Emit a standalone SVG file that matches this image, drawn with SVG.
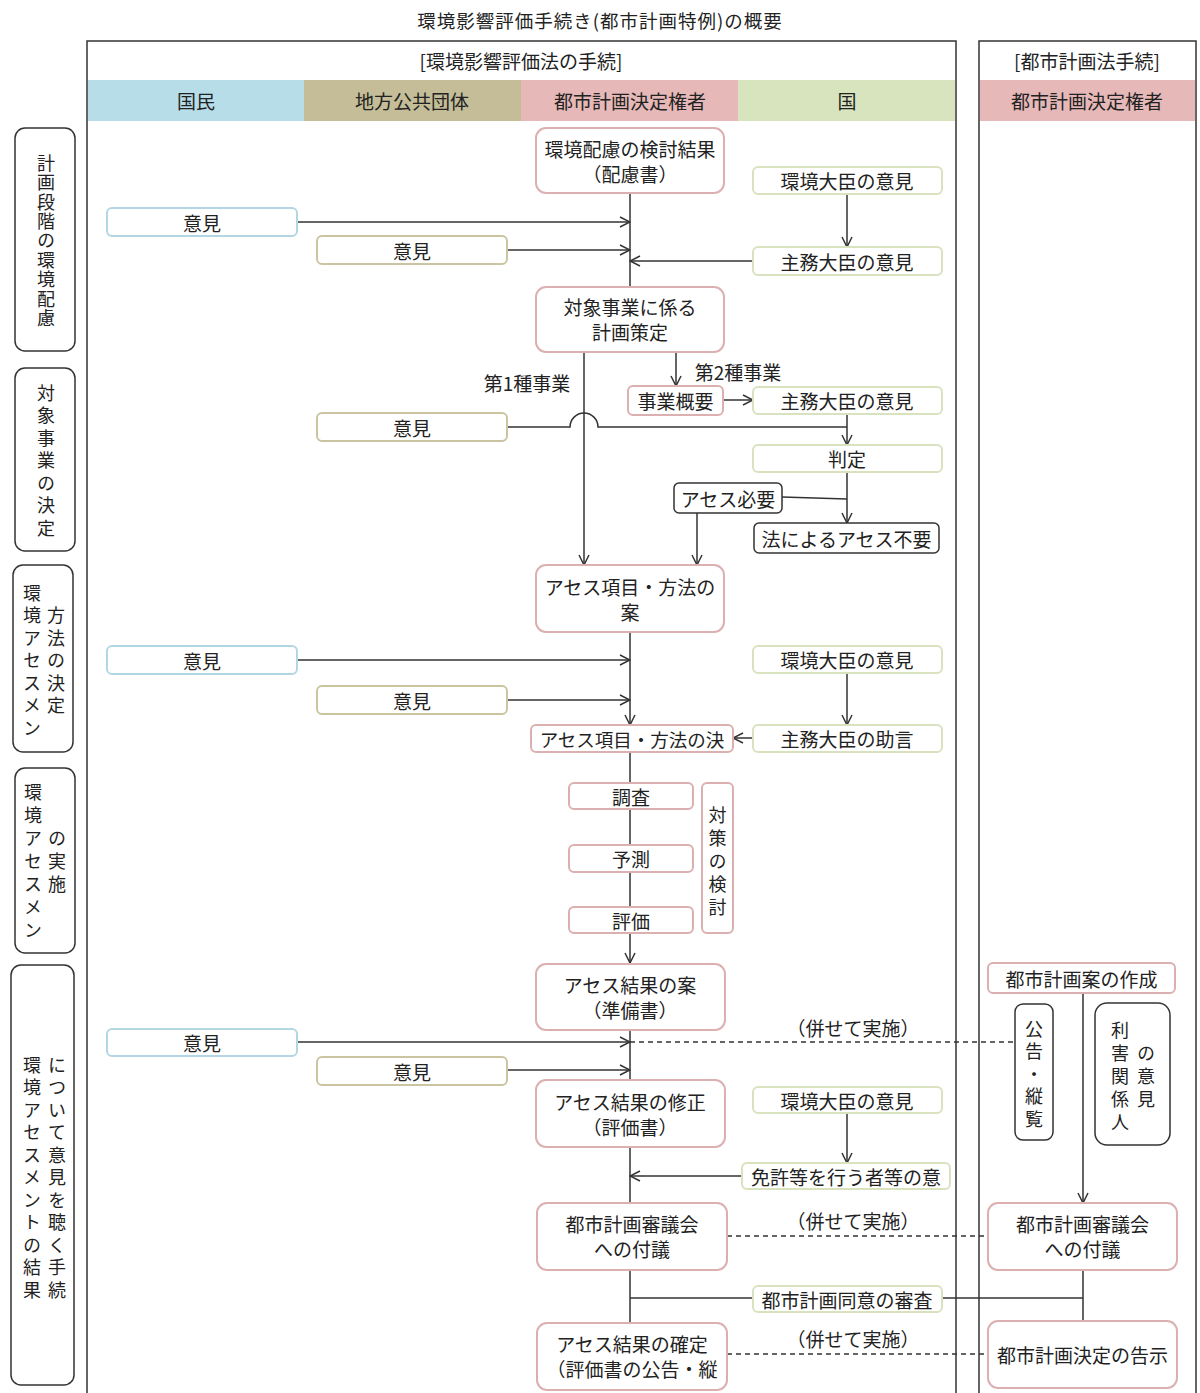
<svg xmlns="http://www.w3.org/2000/svg" width="1200" height="1393" viewBox="0 0 1200 1393">
<defs>
<style>
text{font-family:"Noto Sans CJK JP","Noto Sans",sans-serif;font-size:19px;fill:#222;text-anchor:middle;dominant-baseline:central}
.t{font-size:18.5px;letter-spacing:1px}
.v{font-size:18px;writing-mode:vertical-rl;text-anchor:start}
.pk{fill:#fff;stroke:#dcb0b0;stroke-width:2}
.gn{fill:#fff;stroke:#d9e2bf;stroke-width:2}
.bl{fill:#fff;stroke:#b3d7e2;stroke-width:2}
.tn{fill:#fff;stroke:#cbc4a0;stroke-width:2}
.bk{fill:#fff;stroke:#333;stroke-width:1.5}
.ln{fill:none;stroke:#333;stroke-width:1.5}
.ds{fill:none;stroke:#333;stroke-width:1.5;stroke-dasharray:5,4}
.fr{fill:none;stroke:#333;stroke-width:1.5}
</style>
<marker id="arr" viewBox="0 0 12 12" refX="11" refY="6" markerWidth="12" markerHeight="12" markerUnits="userSpaceOnUse" orient="auto">
<path d="M1,1 L11,6 L1,11" fill="none" stroke="#333" stroke-width="1.5"/>
</marker>
</defs>
<rect width="1200" height="1393" fill="#fff"/>

<text class="t" x="600" y="20">環境影響評価手続き(都市計画特例)の概要</text>

<g id="frames">
<rect class="fr" x="87" y="41" width="869" height="1370"/>
<rect class="fr" x="979" y="41" width="217" height="1370"/>
<text x="521" y="60">[環境影響評価法の手続]</text>
<text x="1087" y="60">[都市計画法手続]</text>
</g>

<g id="lanes">
<rect x="88" y="80" width="216" height="41" fill="#b7dde8"/>
<rect x="304" y="80" width="217" height="41" fill="#c4bd97"/>
<rect x="521" y="80" width="217" height="41" fill="#e6b8b7"/>
<rect x="738" y="80" width="217" height="41" fill="#d7e4bd"/>
<rect x="980" y="80" width="215" height="41" fill="#e6b8b7"/>
<text x="196" y="100">国民</text>
<text x="412" y="100">地方公共団体</text>
<text x="630" y="100">都市計画決定権者</text>
<text x="847" y="100">国</text>
<text x="1087" y="100">都市計画決定権者</text>
</g>

<g id="stages">
<g id="stage1">
<rect class="bk" x="15" y="128" width="60" height="223" rx="10"/>
<text class="v" x="46" y="154" style="letter-spacing:1.4px">計画段階の環境配慮</text>
</g>
<g id="stage2">
<rect class="bk" x="15" y="368" width="60" height="183" rx="10"/>
<text class="v" x="46" y="384" style="letter-spacing:4.5px">対象事業の決定</text>
</g>
<g id="stage3">
<rect class="bk" x="13" y="565" width="60" height="187" rx="10"/>
<text class="v" x="32" y="584" style="letter-spacing:4.5px">環境アセスメン</text>
<text class="v" x="56" y="606.5" style="letter-spacing:4.5px">方法の決定</text>
</g>
<g id="stage4">
<rect class="bk" x="15" y="768" width="60" height="185" rx="10"/>
<text class="v" x="33" y="783" style="letter-spacing:5px">環境アセスメン</text>
<text class="v" x="57" y="829" style="letter-spacing:5px">の実施</text>
</g>
<g id="stage5">
<rect class="bk" x="11" y="965" width="63" height="420" rx="10"/>
<text class="v" x="32" y="1056" style="letter-spacing:4.5px">環境アセスメントの結果</text>
<text class="v" x="57" y="1056" style="letter-spacing:4.5px">について意見を聴く手続</text>
</g>
</g>

<g id="connectors">
<path class="ln" d="M297,222 H630" marker-end="url(#arr)"/>
<path class="ln" d="M507,250 H630" marker-end="url(#arr)"/>
<path class="ln" d="M847,194 V247" marker-end="url(#arr)"/>
<path class="ln" d="M753,261 H630" marker-end="url(#arr)"/>
<path class="ln" d="M630,193 V287"/>
<path class="ln" d="M584,352 V565" marker-end="url(#arr)"/>
<path class="ln" d="M676,352 V386" marker-end="url(#arr)"/>
<path class="ln" d="M723,400 H753" marker-end="url(#arr)"/>
<path class="ln" d="M507,427 H570 A14,14 0 0 1 598,427 H847"/>
<path class="ln" d="M847,413 V445" marker-end="url(#arr)"/>
<path class="ln" d="M847,472 V523" marker-end="url(#arr)"/>
<path class="ln" d="M782,497 L847,499"/>
<path class="ln" d="M697,513 V565" marker-end="url(#arr)"/>
<path class="ln" d="M297,660 H630" marker-end="url(#arr)"/>
<path class="ln" d="M507,700 H630" marker-end="url(#arr)"/>
<path class="ln" d="M630,632 V725" marker-end="url(#arr)"/>
<path class="ln" d="M847,673 V725" marker-end="url(#arr)"/>
<path class="ln" d="M753,738 H733" marker-end="url(#arr)"/>
<path class="ln" d="M630,752 V963" marker-end="url(#arr)"/>
<path class="ln" d="M297,1042 H630" marker-end="url(#arr)"/>
<path class="ds" d="M630,1042 H1015"/>
<path class="ln" d="M507,1070 H630" marker-end="url(#arr)"/>
<path class="ln" d="M630,1030 V1080"/>
<path class="ln" d="M847,1113 V1163" marker-end="url(#arr)"/>
<path class="ln" d="M742,1176 H630" marker-end="url(#arr)"/>
<path class="ln" d="M630,1147 V1203"/>
<path class="ds" d="M727,1236 H988"/>
<path class="ln" d="M630,1270 V1322"/>
<path class="ln" d="M630,1298 H753"/>
<path class="ln" d="M942,1298 H1083"/>
<path class="ln" d="M1083,1270 V1321"/>
<path class="ds" d="M727,1354 H988"/>
<path class="ln" d="M1083,993 V1203" marker-end="url(#arr)"/>
<text x="527" y="382">第1種事業</text>
<text x="738" y="371">第2種事業</text>
<text x="853" y="1027">（併せて実施）</text>
<text x="853" y="1220">（併せて実施）</text>
<text x="853" y="1338">（併せて実施）</text>
</g>

<g id="n-hairyo"><rect class="pk" x="536" y="128" width="188" height="65" rx="10"/><text x="630" y="148">環境配慮の検討結果</text><text x="630" y="173">（配慮書）</text></g>
<g id="n-kankyo1"><rect class="gn" x="753" y="167" width="189" height="27" rx="5"/><text x="847" y="180.5">環境大臣の意見</text></g>
<g id="n-kokumin1"><rect class="bl" x="107" y="208" width="190" height="28" rx="5"/><text x="202" y="222">意見</text></g>
<g id="n-chiho1"><rect class="tn" x="317" y="236" width="190" height="28" rx="5"/><text x="412" y="250">意見</text></g>
<g id="n-shumu1"><rect class="gn" x="753" y="247" width="189" height="28" rx="5"/><text x="847" y="261">主務大臣の意見</text></g>
<g id="n-keikaku"><rect class="pk" x="536" y="287" width="188" height="65" rx="10"/><text x="630" y="306.5">対象事業に係る</text><text x="630" y="331.5">計画策定</text></g>
<g id="n-gaiyo"><rect class="pk" x="628" y="386" width="95" height="29" rx="5"/><text x="675.5" y="400.5">事業概要</text></g>
<g id="n-shumu2"><rect class="gn" x="753" y="387" width="189" height="27" rx="5"/><text x="847" y="400">主務大臣の意見</text></g>
<g id="n-chiho2"><rect class="tn" x="317" y="413" width="190" height="28" rx="5"/><text x="412" y="427">意見</text></g>
<g id="n-hantei"><rect class="gn" x="753" y="445" width="189" height="27" rx="5"/><text x="847" y="458.5">判定</text></g>
<g id="n-hitsuyo"><rect class="bk" x="674" y="483" width="108" height="30" rx="5"/><text x="728" y="498">アセス必要</text></g>
<g id="n-fuyo"><rect class="bk" x="754" y="523" width="185" height="30" rx="5"/><text x="846.5" y="538">法によるアセス不要</text></g>
<g id="n-hoho-an"><rect class="pk" x="536" y="565" width="188" height="67" rx="10"/><text x="630" y="586">アセス項目・方法の</text><text x="630" y="611">案</text></g>
<g id="n-kokumin2"><rect class="bl" x="107" y="646" width="190" height="28" rx="5"/><text x="202" y="660">意見</text></g>
<g id="n-kankyo2"><rect class="gn" x="753" y="646" width="189" height="27" rx="5"/><text x="847" y="659.5">環境大臣の意見</text></g>
<g id="n-chiho3"><rect class="tn" x="317" y="686" width="190" height="28" rx="5"/><text x="412" y="700">意見</text></g>
<g id="n-hoho-ketsu"><rect class="pk" x="531" y="725" width="202" height="27" rx="5"/><text x="632" y="738.5" style="font-size:18.5px">アセス項目・方法の決</text></g>
<g id="n-jogen"><rect class="gn" x="753" y="725" width="189" height="27" rx="5"/><text x="847" y="738.5">主務大臣の助言</text></g>
<g id="n-chosa"><rect class="pk" x="569" y="783" width="124" height="26" rx="5"/><text x="631" y="796">調査</text></g>
<g id="n-yosoku"><rect class="pk" x="569" y="845" width="124" height="27" rx="5"/><text x="631" y="858.5">予測</text></g>
<g id="n-hyoka"><rect class="pk" x="569" y="907" width="124" height="26" rx="5"/><text x="631" y="920">評価</text></g>
<g id="n-taisaku"><rect class="pk" x="702" y="783" width="31" height="150" rx="5"/><text class="v" x="717.5" y="806" style="letter-spacing:5px">対策の検討</text></g>
<g id="n-junbi"><rect class="pk" x="536" y="964" width="189" height="66" rx="10"/><text x="630" y="984">アセス結果の案</text><text x="630" y="1009">（準備書）</text></g>
<g id="n-kokumin3"><rect class="bl" x="107" y="1029" width="190" height="27" rx="5"/><text x="202" y="1042.5">意見</text></g>
<g id="n-chiho4"><rect class="tn" x="317" y="1057" width="190" height="28" rx="5"/><text x="412" y="1071">意見</text></g>
<g id="n-shusei"><rect class="pk" x="536" y="1080" width="189" height="67" rx="10"/><text x="630" y="1101">アセス結果の修正</text><text x="630" y="1126">（評価書）</text></g>
<g id="n-kankyo3"><rect class="gn" x="753" y="1087" width="189" height="26" rx="5"/><text x="847" y="1100">環境大臣の意見</text></g>
<g id="n-menkyo"><rect class="gn" x="742" y="1163" width="208" height="26" rx="5"/><text x="846" y="1176">免許等を行う者等の意</text></g>
<g id="n-shingi"><rect class="pk" x="537" y="1203" width="190" height="67" rx="10"/><text x="632" y="1223.5">都市計画審議会</text><text x="632" y="1248.5">への付議</text></g>
<g id="n-doi"><rect class="gn" x="753" y="1286" width="189" height="26" rx="5"/><text x="847" y="1299">都市計画同意の審査</text></g>
<g id="n-kakutei"><rect class="pk" x="537" y="1323" width="190" height="67" rx="10"/><text x="632" y="1343">アセス結果の確定</text><text x="632" y="1368">（評価書の公告・縦</text></g>

<g id="n-toshi-an"><rect class="pk" x="988" y="963" width="187" height="30" rx="5"/><text x="1081.5" y="978">都市計画案の作成</text></g>
<g id="n-kokoku"><rect class="bk" x="1015" y="1004" width="38" height="136" rx="8"/><text class="v" x="1034" y="1020" style="letter-spacing:4.5px">公告・縦覧</text></g>
<g id="n-rigai"><rect class="bk" x="1095" y="1003" width="75" height="142" rx="12"/><text class="v" x="1120" y="1021" style="letter-spacing:5px">利害関係人</text><text class="v" x="1146" y="1044" style="letter-spacing:5px">の意見</text></g>
<g id="n-shingi2"><rect class="pk" x="988" y="1203" width="189" height="67" rx="10"/><text x="1082.5" y="1223.5">都市計画審議会</text><text x="1082.5" y="1248.5">への付議</text></g>
<g id="n-kokuji"><rect class="pk" x="988" y="1321" width="189" height="67" rx="10"/><text x="1082.5" y="1354">都市計画決定の告示</text></g>
</svg>
